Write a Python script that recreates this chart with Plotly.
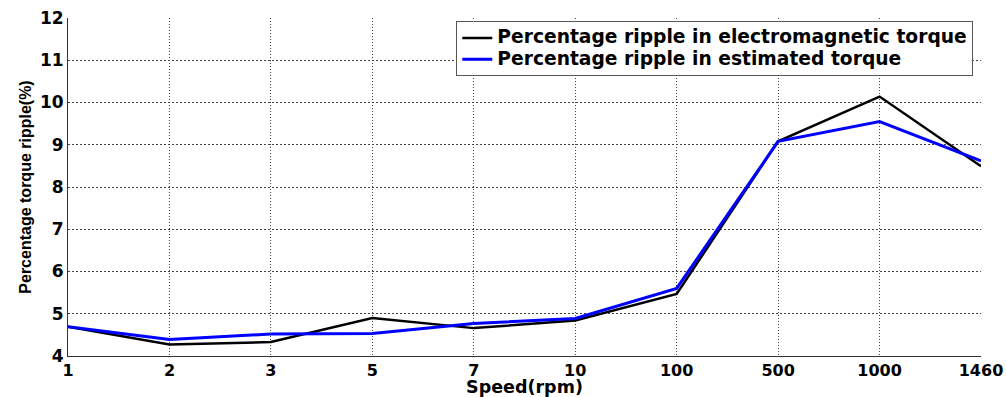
import plotly.graph_objects as go

speed_labels = ["1", "2", "3", "5", "7", "10", "100", "500", "1000", "1460"]
ripple_electromagnetic = [4.69, 4.27, 4.33, 4.90, 4.66, 4.84, 5.47, 9.08, 10.14, 8.49]
ripple_estimated = [4.69, 4.39, 4.52, 4.53, 4.77, 4.89, 5.60, 9.08, 9.55, 8.62]
y_ticks = [4, 5, 6, 7, 8, 9, 10, 11, 12]
series_names = ["Percentage ripple in electromagnetic torque",
                "Percentage ripple in estimated torque"]

HFONT = "DejaVu Sans"


def legend_label(text):
    return '<span style="font-size:18.7px">' + text + "</span>"


fig = go.Figure()
fig.add_trace(go.Scatter(
    x=speed_labels, y=ripple_electromagnetic, mode="lines",
    name=legend_label(series_names[0]),
    line=dict(color="#000000", width=2.5),
))
fig.add_trace(go.Scatter(
    x=speed_labels, y=ripple_estimated, mode="lines",
    name=legend_label(series_names[1]),
    line=dict(color="#0000ff", width=3),
))

fig.update_layout(
    width=1006, height=397,
    margin=dict(l=68, r=25, t=18, b=41),
    paper_bgcolor="white", plot_bgcolor="white",
    showlegend=True,
    legend=dict(
        x=0.4253, y=0.99, xanchor="left", yanchor="top",
        bgcolor="white", bordercolor="#555555", borderwidth=1,
        font=dict(family=HFONT, size=14, color="black", weight="bold"),
        tracegroupgap=0,
    ),
)
fig.update_xaxes(
    type="category", range=[0, len(speed_labels) - 1], automargin=False,
    showgrid=True, gridcolor="#444444", gridwidth=1, griddash="1px,2px",
    showline=True, linecolor="#333333", linewidth=1,
    ticks="", zeroline=False,
    tickfont=dict(family=HFONT, size=16, color="black", weight="bold"),
    title=dict(text="Speed(rpm)", standoff=4,
               font=dict(family=HFONT, size=17.5, color="black", weight="bold")),
)
fig.update_yaxes(
    range=[4, 12], tickvals=y_ticks, automargin=False,
    showgrid=True, gridcolor="#444444", gridwidth=1, griddash="2px,2px",
    showline=True, linecolor="#333333", linewidth=1,
    ticks="", zeroline=False,
    tickfont=dict(family=HFONT, size=17, color="black", weight="bold"),
    title=dict(text="Percentage torque ripple(%)", standoff=4,
               font=dict(family="Liberation Sans", size=16, color="black", weight="bold")),
)
fig.write_html(
    "out.html",
    config={"displayModeBar": False},
    post_script="document.body.style.margin='0';document.body.style.overflow='hidden';",
)
